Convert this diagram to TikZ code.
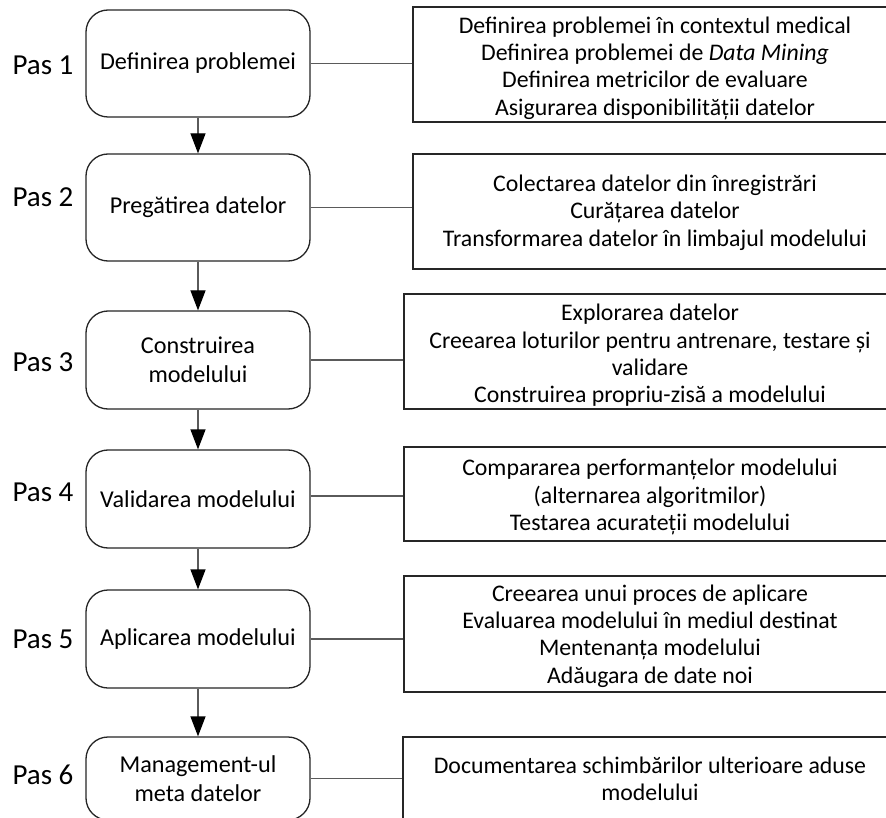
\documentclass[tikz,border=0pt]{standalone}
\usepackage{fontspec}
\setmainfont{Carlito}
\usetikzlibrary{arrows.meta}
\definecolor{conn}{HTML}{5A5A5A}
\tikzset{
  stepbox/.style={draw=black!85, line width=1.3pt, rounded corners=22pt, minimum width=224pt, align=center, inner sep=0pt,
    font=\fontsize{24.2}{28.5}\selectfont},
  frame/.style={draw=black!85, line width=1.3pt, inner sep=0pt},
  infotext/.style={align=center, inner sep=0pt, font=\fontsize{23.8}{27.3}\selectfont},
  paslabel/.style={inner sep=0pt, font=\fontsize{29}{32}\selectfont},
  link/.style={draw=conn, line width=1.3pt},
  flow/.style={draw=conn, line width=1.3pt, -{Triangle[length=20pt,width=15pt,color=black,fill=black]}}
}
\begin{document}
\begin{tikzpicture}[x=1pt,y=-1pt]
\clip (0,0) rectangle (886,818);
\fill[white] (0,0) rectangle (886,818);

% step boxes
\node[stepbox, minimum height=107pt] (b1) at (198,63.5) {Definirea problemei};
\node[stepbox, minimum height=107pt] (b2) at (198,207.5) {Pregătirea datelor};
\node[stepbox, minimum height=98pt] (b3) at (198,360) {Construirea\\modelului};
\node[stepbox, minimum height=98pt] (b4) at (198,499) {Validarea modelului};
\node[stepbox, minimum height=98pt] (b5) at (198,639) {Aplicarea modelului};
\node[stepbox, minimum height=83pt] (b6) at (198,778.5) {Management-ul\\meta datelor};

% labels
\node[paslabel] (p1) at (43,65) {Pas 1};
\node[paslabel] (p2) at (43,197) {Pas 2};
\node[paslabel] (p3) at (43,362) {Pas 3};
\node[paslabel] (p4) at (43,492) {Pas 4};
\node[paslabel] (p5) at (43,639) {Pas 5};
\node[paslabel] (p6) at (43,775) {Pas 6};

% info boxes (frames)
\node[frame, minimum width=484pt, minimum height=115pt] (r1) at (655,64.5) {};
\node[frame, minimum width=484pt, minimum height=115pt] (r2) at (655,211.5) {};
\node[frame, minimum width=492pt, minimum height=115pt] (r3) at (650,351.5) {};
\node[frame, minimum width=492pt, minimum height=94pt] (r4) at (650,494) {};
\node[frame, minimum width=492pt, minimum height=116pt] (r5) at (650,634) {};
\node[frame, minimum width=494pt, minimum height=84pt] (r6) at (650,779) {};

% info texts
\node[infotext] (t1) at ([yshift=-3.5pt]r1.center)
  {Definirea problemei în contextul medical\\Definirea problemei de \textit{Data Mining}\\Definirea metricilor de evaluare\\Asigurarea disponibilității datelor};
\node[infotext] (t2) at ([yshift=-1pt]r2.center)
  {Colectarea datelor din înregistrări\\Curățarea datelor\\Transformarea datelor în limbajul modelului};
\node[infotext] (t3) at ([yshift=-4pt]r3.center)
  {Explorarea datelor\\Creearea loturilor pentru antrenare, testare și\\validare\\Construirea propriu-zisă a modelului};
\node[infotext] (t4) at ([yshift=-3pt]r4.center)
  {Compararea performanțelor modelului\\(alternarea algoritmilor)\\Testarea acurateții modelului};
\node[infotext] (t5) at ([yshift=-2pt]r5.center)
  {Creearea unui proces de aplicare\\Evaluarea modelului în mediul destinat\\Mentenanța modelului\\Adăugara de date noi};
\node[infotext] (t6) at (r6.center)
  {Documentarea schimbărilor ulterioare aduse\\modelului};

% connectors
\draw[link] (b1.east) -- (b1.east -| r1.west);
\draw[link] (b2.east) -- (b2.east -| r2.west);
\draw[link] (b3.east) -- (b3.east -| r3.west);
\draw[link] (b4.east) ++(0,-3) coordinate (c4) -- (c4 -| r4.west);
\draw[link] (b5.east) -- (b5.east -| r5.west);
\draw[link] (b6.east) -- (b6.east -| r6.west);

\draw[flow] (b1.south) -- (b2.north);
\draw[flow] (b2.south) -- (b3.north);
\draw[flow] (b3.south) -- (b4.north);
\draw[flow] (b4.south) -- (b5.north);
\draw[flow] (b5.south) -- (b6.north);
\end{tikzpicture}
\end{document}
